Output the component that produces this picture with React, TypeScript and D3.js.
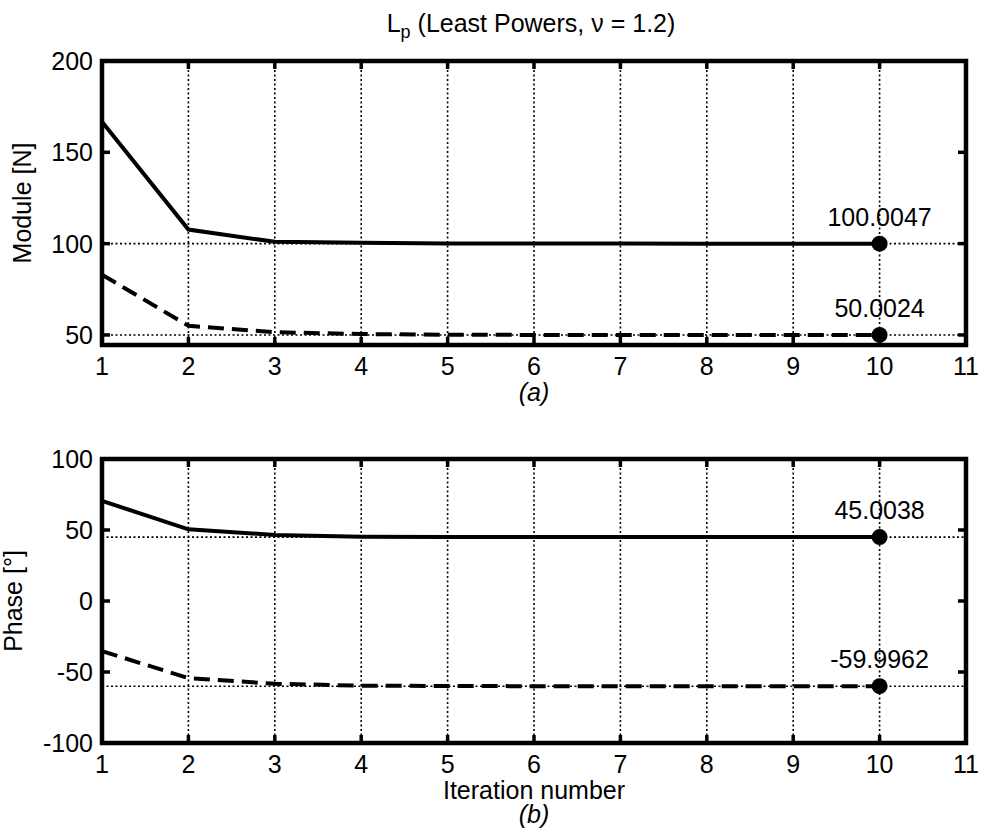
import React, { useEffect, useRef } from 'react'
import * as d3 from 'd3'

const iterations = [1, 2, 3, 4, 5, 6, 7, 8, 9, 10]
const moduleSolid = [166.8, 107.7, 101.0, 100.5, 100.1, 100.02, 100.01, 100.006, 100.005, 100.0047]
const moduleDashed = [83.0, 55.0, 51.5, 50.5, 50.1, 50.03, 50.01, 50.005, 50.003, 50.0024]
const phaseSolid = [70.5, 50.5, 46.5, 45.3, 45.05, 45.01, 45.005, 45.004, 45.004, 45.0038]
const phaseDashed = [-35.3, -54.3, -58.3, -59.6, -59.9, -59.97, -59.99, -59.995, -59.996, -59.9962]
const xTicks = [1, 2, 3, 4, 5, 6, 7, 8, 9, 10, 11]
const moduleTicks = [50, 100, 150, 200]
const phaseTicks = [-100, -50, 0, 50, 100]
const moduleRefs = [100, 50]
const phaseRefs = [45, -60]
const moduleFinal = [{ v: 100.0047, label: '100.0047' }, { v: 50.0024, label: '50.0024' }]
const phaseFinal = [{ v: 45.0038, label: '45.0038' }, { v: -59.9962, label: '-59.9962' }]

const W = 984, H = 834
const FONT = 'Liberation Sans, Arial, sans-serif'
const FS = 25

type PanelOpts = {
  top: number
  bottom: number
  yDomain: [number, number]
  yTicks: number[]
  refs: number[]
  solid: number[]
  dashed: number[]
  finals: { v: number, label: string }[]
  yLabel: string
  yLabelX: number
}

function drawPanel(svg: any, o: PanelOpts) {
  const left = 102, right = 966
  const x = d3.scaleLinear().domain([1, 11]).range([left, right])
  const y = d3.scaleLinear().domain(o.yDomain).range([o.bottom, o.top])
  const g = svg.append('g')

  // vertical grid
  g.selectAll('.vgrid').data(xTicks.slice(1, -1)).enter().append('line')
    .attr('x1', (d: number) => x(d)).attr('x2', (d: number) => x(d))
    .attr('y1', o.top).attr('y2', o.bottom)
    .attr('stroke', '#000').attr('stroke-width', 1.6).attr('stroke-dasharray', '2,2.5')

  // reference lines at the true values
  g.selectAll('.ref').data(o.refs).enter().append('line')
    .attr('x1', left).attr('x2', right)
    .attr('y1', (d: number) => y(d)).attr('y2', (d: number) => y(d))
    .attr('stroke', '#000').attr('stroke-width', 1.6).attr('stroke-dasharray', '2,2.5')

  const line = d3.line<number>().x((d, i) => x(iterations[i])).y(d => y(d))

  g.append('path').datum(o.solid).attr('d', line)
    .attr('fill', 'none').attr('stroke', '#000').attr('stroke-width', 4)
  g.append('path').datum(o.dashed).attr('d', line)
    .attr('fill', 'none').attr('stroke', '#000').attr('stroke-width', 4)
    .attr('stroke-dasharray', '16,8')

  g.selectAll('.dot').data(o.finals).enter().append('circle')
    .attr('cx', x(10)).attr('cy', (d: any) => y(d.v)).attr('r', 8).attr('fill', '#000')
  g.selectAll('.flab').data(o.finals).enter().append('text')
    .attr('x', x(10)).attr('y', (d: any) => y(d.v) - 18)
    .attr('text-anchor', 'middle').attr('font-size', FS).attr('font-family', FONT)
    .text((d: any) => d.label)

  // ticks inside, all four sides
  const tl = 8
  xTicks.slice(1, -1).forEach(t => {
    g.append('line').attr('x1', x(t)).attr('x2', x(t)).attr('y1', o.bottom).attr('y2', o.bottom - tl)
      .attr('stroke', '#000').attr('stroke-width', 3.5)
    g.append('line').attr('x1', x(t)).attr('x2', x(t)).attr('y1', o.top).attr('y2', o.top + tl)
      .attr('stroke', '#000').attr('stroke-width', 3.5)
  })
  o.yTicks.forEach(t => {
    g.append('line').attr('x1', left).attr('x2', left + tl).attr('y1', y(t)).attr('y2', y(t))
      .attr('stroke', '#000').attr('stroke-width', 3.5)
    g.append('line').attr('x1', right).attr('x2', right - tl).attr('y1', y(t)).attr('y2', y(t))
      .attr('stroke', '#000').attr('stroke-width', 3.5)
  })

  g.append('rect').attr('x', left).attr('y', o.top).attr('width', right - left).attr('height', o.bottom - o.top)
    .attr('fill', 'none').attr('stroke', '#000').attr('stroke-width', 4.5)

  g.selectAll('.xl').data(xTicks).enter().append('text')
    .attr('x', (d: number) => x(d)).attr('y', o.bottom + 30)
    .attr('text-anchor', 'middle').attr('font-size', FS).attr('font-family', FONT)
    .text((d: number) => d)
  g.selectAll('.yl').data(o.yTicks).enter().append('text')
    .attr('x', left - 9).attr('y', (d: number) => y(d) + 9)
    .attr('text-anchor', 'end').attr('font-size', FS).attr('font-family', FONT)
    .text((d: number) => d)

  g.append('text')
    .attr('transform', `translate(${o.yLabelX}, ${(o.top + o.bottom) / 2}) rotate(-90)`)
    .attr('text-anchor', 'middle').attr('font-size', FS).attr('font-family', FONT)
    .text(o.yLabel)
}

export default function App() {
  const ref = useRef<SVGSVGElement>(null)

  useEffect(() => {
    const svg = d3.select(ref.current)
    svg.selectAll('*').remove()

    const title = svg.append('text').attr('x', 531).attr('y', 32)
      .attr('text-anchor', 'middle').attr('font-size', FS).attr('font-family', FONT)
    title.append('tspan').text('L')
    title.append('tspan').attr('dy', 6).attr('font-size', 18).text('p')
    title.append('tspan').attr('dy', -6).text(' (Least Powers, \u03bd = 1.2)')

    drawPanel(svg, {
      top: 61, bottom: 345, yDomain: [44.5, 200], yTicks: moduleTicks, refs: moduleRefs,
      solid: moduleSolid, dashed: moduleDashed, finals: moduleFinal, yLabel: 'Module [N]', yLabelX: 31
    })
    svg.append('text').attr('x', 534).attr('y', 401).attr('text-anchor', 'middle')
      .attr('font-size', FS).attr('font-style', 'italic').attr('font-family', FONT).text('(a)')

    drawPanel(svg, {
      top: 459, bottom: 743, yDomain: [-100, 100], yTicks: phaseTicks, refs: phaseRefs,
      solid: phaseSolid, dashed: phaseDashed, finals: phaseFinal, yLabel: 'Phase [\u00b0]', yLabelX: 22
    })
    svg.append('text').attr('x', 534).attr('y', 799).attr('text-anchor', 'middle')
      .attr('font-size', FS).attr('font-family', FONT).text('Iteration number')
    svg.append('text').attr('x', 534).attr('y', 823).attr('text-anchor', 'middle')
      .attr('font-size', FS).attr('font-style', 'italic').attr('font-family', FONT).text('(b)')
  }, [])

  return <svg ref={ref} width={W} height={H} style={{ display: 'block', position: 'absolute', left: 0, top: 0, background: '#fff' }} />
}
